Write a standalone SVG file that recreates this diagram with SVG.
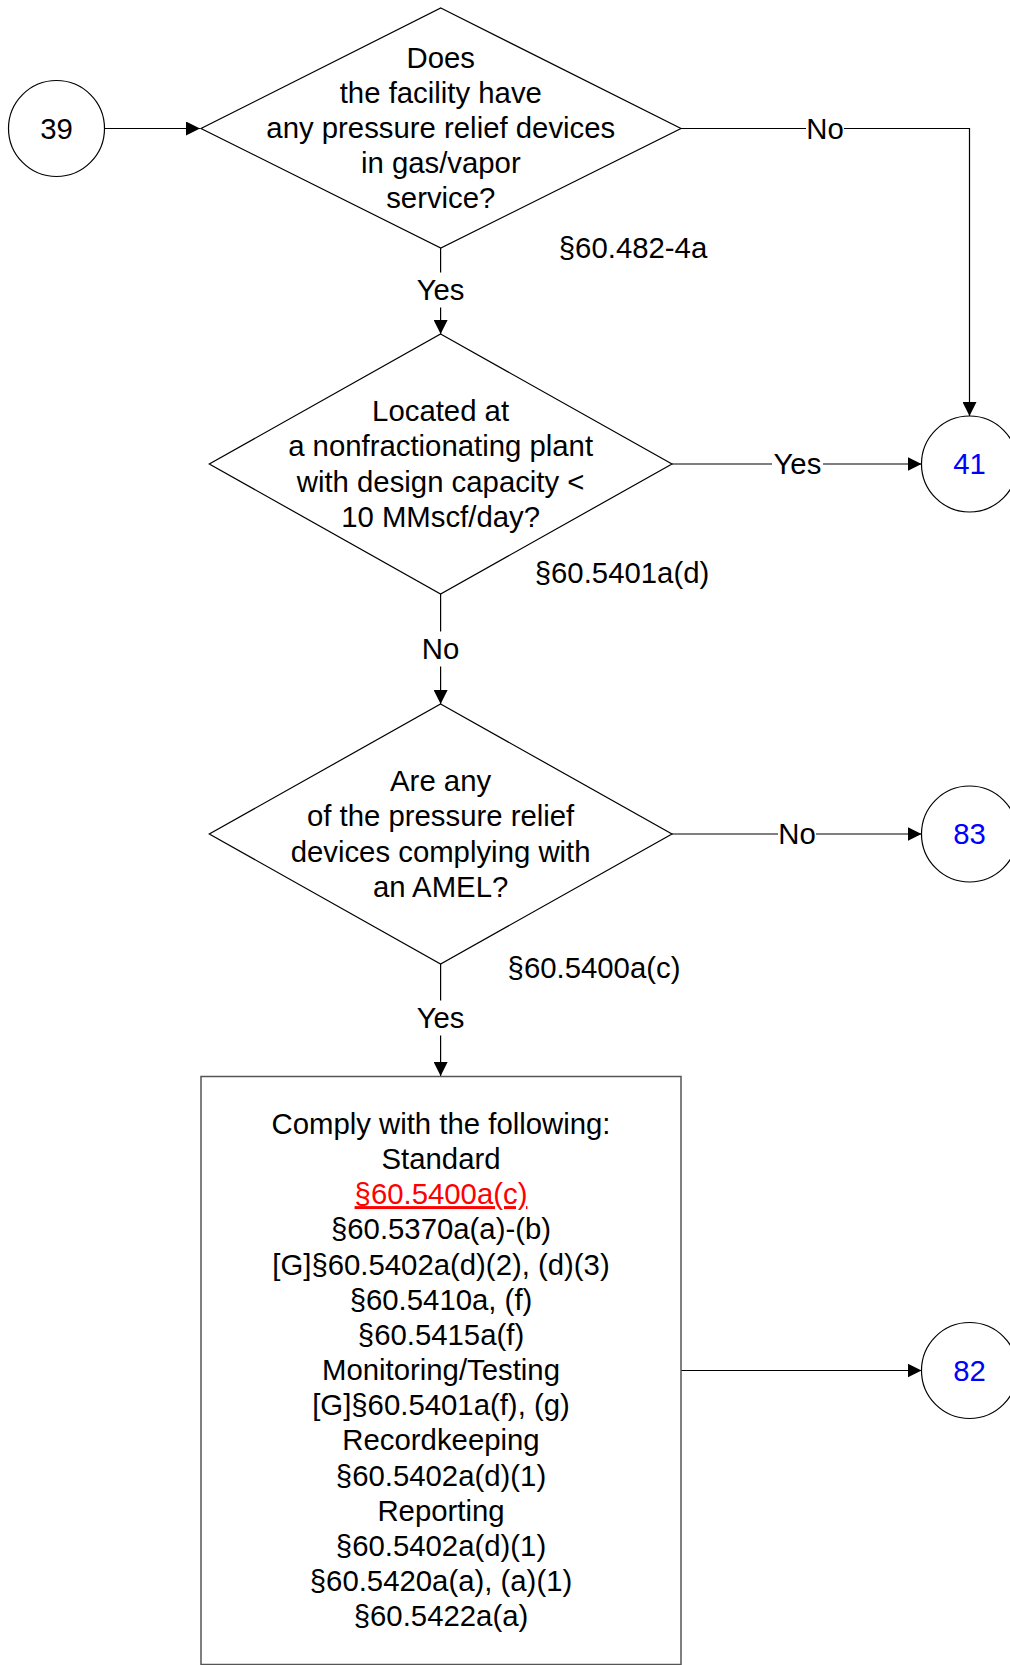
<svg xmlns="http://www.w3.org/2000/svg" width="1010" height="1665" viewBox="0 0 1010 1665">
<style>
text{font-family:"Liberation Sans",Arial,sans-serif;font-size:29.33px;fill:#000;text-anchor:middle}
.shape{fill:#fff;stroke:#000;stroke-width:1.2}
.box{fill:#fff;stroke:#555;stroke-width:1.5}
.conn{fill:none;stroke:#000;stroke-width:1.2}
.lbg{fill:#fff;stroke:none}
.blue{fill:#0000ff}
.red{fill:#ff0000;text-decoration:underline}
</style>
<defs>
<marker id="arr" markerUnits="userSpaceOnUse" markerWidth="15" markerHeight="14" refX="14" refY="7" orient="auto">
<path d="M0,0 L14,7 L0,14 z" fill="#000"/>
</marker>
</defs>
<rect width="1010" height="1665" fill="#fff"/>

<g id="connectors">
<path class="conn" d="M104.5,128.5 H200" marker-end="url(#arr)"/>
<path class="conn" d="M681,128.5 H969.5 V416" marker-end="url(#arr)"/>
<path class="conn" d="M440.6,248 V334" marker-end="url(#arr)"/>
<path class="conn" d="M672,464 H921.5" marker-end="url(#arr)"/>
<path class="conn" d="M440.6,594 V704" marker-end="url(#arr)"/>
<path class="conn" d="M672,834 H921.5" marker-end="url(#arr)"/>
<path class="conn" d="M440.6,964 V1076" marker-end="url(#arr)"/>
<path class="conn" d="M681,1370.5 H921.5" marker-end="url(#arr)"/>
<g id="labels">
<rect class="lbg" x="806" y="111" width="38" height="35"/>
<text x="825" y="138.5">No</text>
<rect class="lbg" x="415" y="272.5" width="51" height="35"/>
<text x="440.6" y="300">Yes</text>
<rect class="lbg" x="772" y="446.5" width="51" height="35"/>
<text x="797.4" y="474">Yes</text>
<rect class="lbg" x="421.6" y="631.5" width="38" height="35"/>
<text x="440.6" y="659">No</text>
<rect class="lbg" x="778" y="816.5" width="38" height="35"/>
<text x="797" y="844">No</text>
<rect class="lbg" x="415" y="1000.5" width="51" height="35"/>
<text x="440.6" y="1028">Yes</text>
</g>
</g>

<g id="n39">
<circle class="shape" cx="56.5" cy="128.5" r="48"/>
<text x="56.5" y="138.5">39</text>
</g>

<g id="d1">
<polygon class="shape" points="440.8,8 681,128.5 440.8,248 201,128.5"/>
<text x="440.8" y="67.6">Does</text>
<text x="440.8" y="102.8">the facility have</text>
<text x="440.8" y="138">any pressure relief devices</text>
<text x="440.8" y="173.2">in gas/vapor</text>
<text x="440.8" y="208.4">service?</text>
<text x="633" y="258">§60.482-4a</text>
</g>

<g id="n41">
<circle class="shape" cx="969.5" cy="464" r="48"/>
<text class="blue" x="969.5" y="474">41</text>
</g>

<g id="d2">
<polygon class="shape" points="440.6,334 672,464 440.6,594 209.3,464"/>
<text x="440.6" y="421.2">Located at</text>
<text x="440.6" y="456.4">a nonfractionating plant</text>
<text x="440.6" y="491.6">with design capacity &lt;</text>
<text x="440.6" y="526.8">10 MMscf/day?</text>
<text x="622" y="583">§60.5401a(d)</text>
</g>

<g id="d3">
<polygon class="shape" points="440.6,704 672,834 440.6,964 209.3,834"/>
<text x="440.6" y="791.2">Are any</text>
<text x="440.6" y="826.4">of the pressure relief</text>
<text x="440.6" y="861.6">devices complying with</text>
<text x="440.6" y="896.8">an AMEL?</text>
<text x="594" y="978">§60.5400a(c)</text>
</g>

<g id="n83">
<circle class="shape" cx="969.5" cy="834" r="48"/>
<text class="blue" x="969.5" y="844">83</text>
</g>

<g id="box">
<rect class="box" x="201" y="1076.5" width="480" height="588"/>
<text x="441" y="1133.7">Comply with the following:</text>
<text x="441" y="1168.9">Standard</text>
<text class="red" x="441" y="1204.1">§60.5400a(c)</text>
<text x="441" y="1239.3">§60.5370a(a)-(b)</text>
<text x="441" y="1274.5">[G]§60.5402a(d)(2), (d)(3)</text>
<text x="441" y="1309.6">§60.5410a, (f)</text>
<text x="441" y="1344.8">§60.5415a(f)</text>
<text x="441" y="1380">Monitoring/Testing</text>
<text x="441" y="1415.2">[G]§60.5401a(f), (g)</text>
<text x="441" y="1450.4">Recordkeeping</text>
<text x="441" y="1485.6">§60.5402a(d)(1)</text>
<text x="441" y="1520.8">Reporting</text>
<text x="441" y="1556">§60.5402a(d)(1)</text>
<text x="441" y="1591.2">§60.5420a(a), (a)(1)</text>
<text x="441" y="1626.4">§60.5422a(a)</text>
</g>

<g id="n82">
<circle class="shape" cx="969.5" cy="1370.5" r="48"/>
<text class="blue" x="969.5" y="1380.5">82</text>
</g>
</svg>
